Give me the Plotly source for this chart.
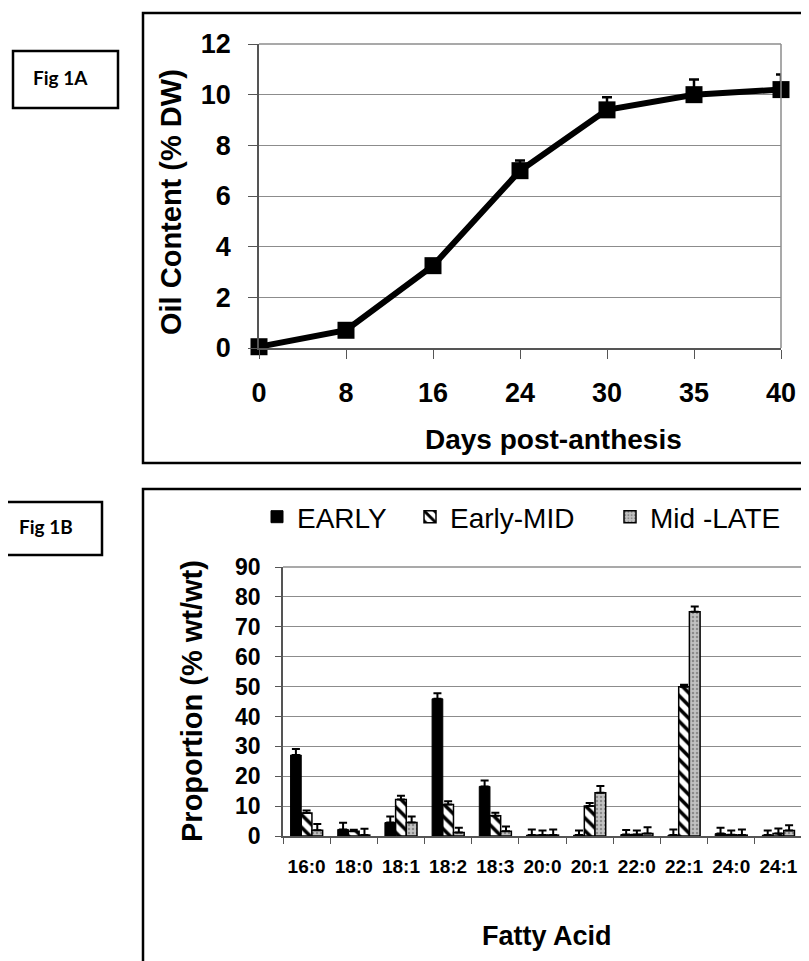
import plotly.graph_objects as go

W, H = 809, 961
OFF = 8  # page body margin of the viewer

# ---------------- data ----------------
days = ["0", "8", "16", "24", "30", "35", "40"]
oil_content = [0.05, 0.7, 3.25, 7.0, 9.4, 10.0, 10.2]
oil_err = [0.1, 0.2, 0.25, 0.4, 0.5, 0.6, 0.6]

fatty_acids = ["16:0", "18:0", "18:1", "18:2", "18:3", "20:0", "20:1", "22:0", "22:1", "24:0", "24:1"]
early = [27.1, 2.2, 4.5, 45.9, 16.6, 0.3, 0.3, 0.5, 0.3, 0.8, 0.3]
early_err = [2.0, 2.2, 2.0, 1.9, 2.0, 1.9, 1.5, 1.5, 1.9, 2.0, 1.5]
early_mid = [7.7, 1.6, 12.2, 10.5, 6.8, 0.3, 10.0, 0.5, 49.9, 0.4, 0.8]
early_mid_err = [0.8, 0.5, 1.3, 1.1, 1.0, 1.5, 1.0, 1.3, 0.7, 1.4, 1.7]
mid_late = [1.9, 0.3, 4.5, 1.2, 1.6, 0.3, 14.5, 0.8, 75.0, 0.3, 1.8]
mid_late_err = [2.1, 2.1, 2.0, 1.6, 1.6, 1.9, 2.2, 2.1, 1.8, 1.9, 1.8]

series_names = ["EARLY", "Early-MID", "Mid -LATE"]


def px(x):
    return (x - OFF) / W


def py(y):
    return 1 - (y - OFF) / H


FONT = "Liberation Sans, Arial, sans-serif"

fig = go.Figure()

# ---------------- Fig 1A: line ----------------
fig.add_trace(go.Scatter(
    x=days, y=oil_content, mode="lines+markers",
    line=dict(color="black", width=6),
    marker=dict(symbol="square", size=17, color="black"),
    error_y=dict(type="data", array=oil_err, symmetric=False,
                 arrayminus=[0] * len(oil_err), color="black", thickness=2.5, width=5),
    xaxis="x", yaxis="y", showlegend=False, cliponaxis=False,
))

# ---------------- Fig 1B: bars ----------------
fig.add_trace(go.Bar(
    x=fatty_acids, y=early, name=series_names[0], legendwidth=108,
    marker=dict(color="black", line=dict(color="black", width=1)),
    error_y=dict(type="data", array=early_err, symmetric=False,
                 arrayminus=[0] * len(early_err), color="black", thickness=2, width=4),
    xaxis="x2", yaxis="y2",
))
fig.add_trace(go.Bar(
    x=fatty_acids, y=early_mid, name=series_names[1], legendwidth=155,
    marker=dict(color="white", line=dict(color="black", width=1.5),
                pattern=dict(shape="\\", fgcolor="black", bgcolor="white", size=9, solidity=0.4)),
    error_y=dict(type="data", array=early_mid_err, symmetric=False,
                 arrayminus=[0] * len(early_mid_err), color="black", thickness=2, width=4),
    xaxis="x2", yaxis="y2",
))
fig.add_trace(go.Bar(
    x=fatty_acids, y=mid_late, name=series_names[2], legendwidth=150,
    marker=dict(color="#bdbdbd", line=dict(color="black", width=1.5),
                pattern=dict(shape=".", fgcolor="#8a8a8a", bgcolor="#c2c2c2", size=4, solidity=0.3)),
    error_y=dict(type="data", array=mid_late_err, symmetric=False,
                 arrayminus=[0] * len(mid_late_err), color="black", thickness=2, width=4),
    xaxis="x2", yaxis="y2",
))

axis_line = "#555555"
grid = "#8c8c8c"

fig.update_layout(
    template="none",
    width=W, height=H, autosize=False,
    margin=dict(l=0, r=0, t=0, b=0, pad=0),
    paper_bgcolor="white", plot_bgcolor="white",
    font=dict(family=FONT, color="black"),
    barmode="group", bargap=0.32, bargroupgap=0,
    xaxis=dict(
        domain=[px(259), px(781)], anchor="y", automargin=False,
        type="category", categoryorder="array", categoryarray=days,
        range=[0, 6], showgrid=False, zeroline=False,
        showline=True, linecolor=axis_line, linewidth=1.5,
        ticks="outside", ticklen=9, tickcolor=axis_line, tickwidth=1,
        tickangle=0,
        tickfont=dict(size=27, family=FONT, weight="bold", color="black"),
        ticklabelstandoff=11,
    ),
    yaxis=dict(
        domain=[py(348), py(44)], anchor="x", automargin=False,
        range=[0, 12], dtick=2, showgrid=True, gridcolor=grid, gridwidth=1,
        zeroline=False, showline=True, linecolor=axis_line, linewidth=1.5,
        ticks="outside", ticklen=9, tickcolor=axis_line, tickwidth=1,
        tickfont=dict(size=27, family=FONT, weight="bold", color="black"),
        ticklabelstandoff=12,
    ),
    xaxis2=dict(
        domain=[px(283), px(802)], anchor="y2", automargin=False,
        type="category", categoryorder="array", categoryarray=fatty_acids,
        range=[-0.5, 10.5], showgrid=False, zeroline=False,
        showline=True, linecolor=axis_line, linewidth=1.5,
        ticks="outside", ticklen=6, tickcolor=axis_line, tickson="boundaries",
        tickangle=0,
        tickfont=dict(size=19, family=FONT, weight="bold", color="black"),
        ticklabelstandoff=12,
    ),
    yaxis2=dict(
        domain=[py(836), py(567)], anchor="x2", automargin=False,
        range=[0, 90], dtick=10, showgrid=True, gridcolor=grid, gridwidth=1,
        zeroline=False, showline=True, linecolor=axis_line, linewidth=1.5,
        ticks="outside", ticklen=6, tickcolor=axis_line,
        tickfont=dict(size=23, family=FONT, weight="bold", color="black"),
        ticklabelstandoff=10,
    ),
    legend=dict(
        orientation="h", x=px(257), y=py(517), xanchor="left", yanchor="middle",
        font=dict(size=28, family=FONT, color="black"), bgcolor="rgba(0,0,0,0)",
        traceorder="normal",
    ),
)

shapes = [
    # outer frames
    dict(type="rect", xref="paper", yref="paper", x0=px(143), x1=px(840), y0=py(463), y1=py(13),
         line=dict(color="black", width=2.5)),
    dict(type="rect", xref="paper", yref="paper", x0=px(143), x1=px(840), y0=py(1000), y1=py(489),
         line=dict(color="black", width=2.5)),
    # Fig label boxes
    dict(type="rect", xref="paper", yref="paper", x0=px(13), x1=px(118), y0=py(108), y1=py(51),
         line=dict(color="black", width=2.5)),
    dict(type="rect", xref="paper", yref="paper", x0=px(2), x1=px(102), y0=py(555), y1=py(502),
         line=dict(color="black", width=2.5)),
    # plot area borders (top / right)
    dict(type="line", xref="x domain", yref="y domain", x0=1, x1=1, y0=0, y1=1, line=dict(color=grid, width=1.5)),
    dict(type="line", xref="x domain", yref="y domain", x0=0, x1=1, y0=1, y1=1, line=dict(color=grid, width=1.5)),
    dict(type="line", xref="x2 domain", yref="y2 domain", x0=1, x1=1, y0=0, y1=1, line=dict(color=grid, width=1.5)),
    dict(type="line", xref="x2 domain", yref="y2 domain", x0=0, x1=1, y0=1, y1=1, line=dict(color=grid, width=1.5)),
]
fig.update_layout(shapes=shapes)

LBL = "Lato, Noto Sans, sans-serif"
annotations = [
    dict(text="Fig 1A", x=px(60), y=py(77), xref="paper", yref="paper", showarrow=False,
         xanchor="center", yanchor="middle",
         font=dict(size=19, family=LBL, weight="bold")),
    dict(text="Fig 1B", x=px(46), y=py(526), xref="paper", yref="paper", showarrow=False,
         xanchor="center", yanchor="middle",
         font=dict(size=19, family=LBL, weight="bold")),
    dict(text="Oil Content (% DW)", x=px(171), y=py(202), xref="paper", yref="paper", showarrow=False,
         xanchor="center", yanchor="middle",
         textangle=-90, font=dict(size=29, family=FONT, weight="bold")),
    dict(text="Days post-anthesis", x=px(553), y=py(440), xref="paper", yref="paper", showarrow=False,
         xanchor="center", yanchor="middle",
         font=dict(size=28, family=FONT, weight="bold")),
    dict(text="Proportion (% wt/wt)", x=px(192), y=py(701), xref="paper", yref="paper", showarrow=False,
         xanchor="center", yanchor="middle",
         textangle=-90, font=dict(size=29, family=FONT, weight="bold")),
    dict(text="Fatty Acid", x=px(547), y=py(936), xref="paper", yref="paper", showarrow=False,
         xanchor="center", yanchor="middle",
         font=dict(size=27, family=FONT, weight="bold")),
]
fig.update_layout(annotations=annotations)

fig.write_html("out.html")
